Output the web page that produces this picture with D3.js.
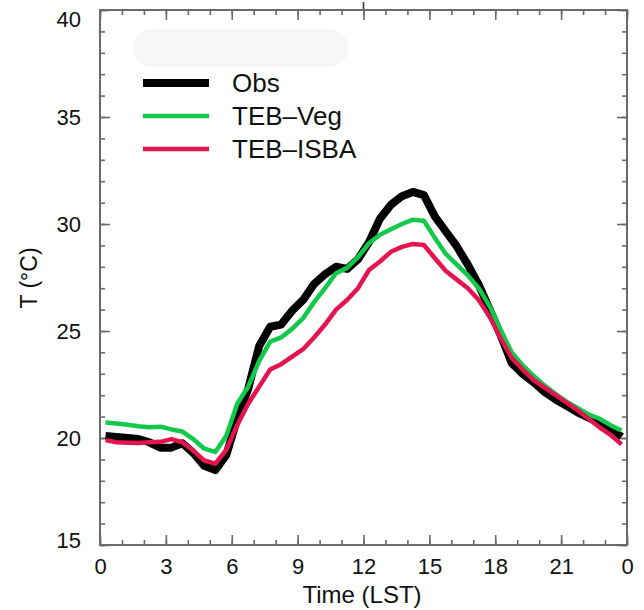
<!DOCTYPE html>
<html>
<head>
<meta charset="utf-8">
<script src="https://cdn.jsdelivr.net/npm/d3@7"></script>
<style>
  body { margin: 0; background: #fff; }
  text { font-family: "Liberation Sans", Arial, sans-serif; fill: #111; }
</style>
</head>
<body>
<svg id="chart" width="644" height="610"></svg>
<script>
var hours = [0.25, 0.75, 1.25, 1.75, 2.25, 2.75, 3.25, 3.75, 4.25, 4.75, 5.25, 5.75,
  6.25, 6.75, 7.25, 7.75, 8.25, 8.75, 9.25, 9.75, 10.25, 10.75, 11.25, 11.75,
  12.25, 12.75, 13.25, 13.75, 14.25, 14.75, 15.25, 15.75, 16.25, 16.75, 17.25, 17.75,
  18.25, 18.75, 19.25, 19.75, 20.25, 20.75, 21.25, 21.75, 22.25, 22.75, 23.25, 23.75];

var obs = [20.1, 20.05, 20.0, 19.95, 19.8, 19.55, 19.55, 19.75, 19.3, 18.7, 18.5, 19.2,
  20.9, 22.3, 24.3, 25.2, 25.3, 25.95, 26.45, 27.2, 27.65, 28.0, 27.9, 28.35,
  29.15, 30.25, 30.9, 31.3, 31.5, 31.35, 30.35, 29.65, 28.95, 28.1, 27.15, 26.0,
  24.8, 23.5, 23.0, 22.6, 22.15, 21.8, 21.5, 21.2, 20.95, 20.75, 20.45, 20.05];

var tebVeg = [20.72, 20.68, 20.62, 20.55, 20.5, 20.53, 20.4, 20.3, 19.95, 19.5, 19.35, 20.1,
  21.6, 22.4, 23.6, 24.5, 24.7, 25.1, 25.6, 26.35, 27.0, 27.7, 27.95, 28.45,
  29.1, 29.5, 29.75, 30.0, 30.2, 30.15, 29.35, 28.6, 28.1, 27.6, 27.0, 26.15,
  25.05, 24.0, 23.4, 22.9, 22.45, 22.05, 21.7, 21.4, 21.1, 20.9, 20.6, 20.35];

var tebIsba = [19.9, 19.8, 19.78, 19.77, 19.8, 19.82, 19.95, 19.8, 19.4, 18.95, 18.8, 19.45,
  20.6, 21.6, 22.4, 23.2, 23.45, 23.8, 24.15, 24.7, 25.3, 26.0, 26.45, 27.0,
  27.85, 28.25, 28.7, 28.93, 29.07, 29.02, 28.4, 27.8, 27.4, 27.0, 26.45, 25.65,
  24.65, 23.75, 23.2, 22.7, 22.35, 22.0, 21.65, 21.3, 20.9, 20.5, 20.15, 19.7];

var xTicks = [0, 3, 6, 9, 12, 15, 18, 21, 24];
var xTickLabels = ["0", "3", "6", "9", "12", "15", "18", "21", "0"];
var yTicks = [15, 20, 25, 30, 35, 40];

var seriesNames = ["Obs", "TEB\u2013Veg", "TEB\u2013ISBA"];
var seriesColors = ["#000000", "#12c94a", "#e5144f"];
var seriesWidths = [8, 4.5, 4.5];

var margin = {top: 10, right: 17, bottom: 65, left: 100};
var svg = d3.select("#chart");
var width = +svg.attr("width") - margin.left - margin.right;
var height = +svg.attr("height") - margin.top - margin.bottom;
var g = svg.append("g").attr("transform", `translate(${margin.left}, ${margin.top})`);

var x = d3.scaleLinear().domain([0, 24]).range([0, width]);
var y = d3.scaleLinear().domain([15, 40]).range([height, 0]);

var axisColor = "#6a6a6a";

// minor + major ticks, inward on all four sides
var xMinor = d3.range(0, 25);
var yMinor = d3.range(15, 41);

g.append("g")
  .attr("transform", `translate(0, ${height})`)
  .call(d3.axisBottom(x).tickValues(xMinor).tickSize(-5).tickFormat(""))
  .call(a => a.select(".domain").remove());
g.append("g")
  .attr("transform", `translate(0, ${height})`)
  .call(d3.axisBottom(x).tickValues(xTicks).tickSize(-10).tickPadding(13)
    .tickFormat((d, i) => xTickLabels[i]))
  .call(a => a.select(".domain").remove());
g.append("g")
  .call(d3.axisTop(x).tickValues(xMinor).tickSize(-5).tickFormat(""))
  .call(a => a.select(".domain").remove());
g.append("g")
  .call(d3.axisTop(x).tickValues(xTicks).tickSize(-10).tickFormat(""))
  .call(a => a.select(".domain").remove());

g.append("g")
  .call(d3.axisLeft(y).tickValues(yMinor).tickSize(-5).tickFormat(""))
  .call(a => a.select(".domain").remove());
g.append("g")
  .attr("class", "ylabels")
  .call(d3.axisLeft(y).tickValues(yTicks).tickSize(-10).tickPadding(19).tickFormat(d3.format("d")))
  .call(a => a.select(".domain").remove());
g.append("g")
  .attr("transform", `translate(${width}, 0)`)
  .call(d3.axisRight(y).tickValues(yMinor).tickSize(-5).tickFormat(""))
  .call(a => a.select(".domain").remove());
g.append("g")
  .attr("transform", `translate(${width}, 0)`)
  .call(d3.axisRight(y).tickValues(yTicks).tickSize(-10).tickFormat(""))
  .call(a => a.select(".domain").remove());

g.selectAll(".tick line").attr("stroke", axisColor).attr("stroke-width", 1.6);
g.selectAll(".tick text").attr("font-size", 22).attr("fill", "#111")
  .style("font-family", "'Liberation Sans', Arial, sans-serif");
// end labels sit just inside the frame, as in the original
g.selectAll(".ylabels .tick text")
  .attr("y", d => d == 40 ? 9 : (d == 15 ? -5 : 0));

// stray mark above the top frame at noon
g.append("line")
  .attr("x1", x(12)).attr("x2", x(12))
  .attr("y1", -8).attr("y2", 0)
  .attr("stroke", "#333").attr("stroke-width", 1.6);

// frame
g.append("rect")
  .attr("width", width).attr("height", height)
  .attr("fill", "none").attr("stroke", axisColor).attr("stroke-width", 2);

// legend
var legend = g.append("g");
legend.append("rect")
  .attr("x", 33).attr("y", 19).attr("width", 215).attr("height", 38)
  .attr("rx", 18).attr("fill", "#f7f7f7");
seriesNames.forEach(function(name, i){
  var ly = 73 + i * 33;
  legend.append("line")
    .attr("x1", 43).attr("x2", 109).attr("y1", ly).attr("y2", ly)
    .attr("stroke", seriesColors[i]).attr("stroke-width", i == 0 ? 8 : 4.5);
  legend.append("text")
    .attr("x", 132).attr("y", ly + 9)
    .attr("font-size", 26)
    .text(name);
});

// lines
var allSeries = [obs, tebVeg, tebIsba];
allSeries.forEach(function(vals, i){
  var line = d3.line()
    .x((d, j) => x(hours[j]))
    .y(d => y(d));
  g.append("path")
    .datum(vals)
    .attr("fill", "none")
    .attr("stroke", seriesColors[i])
    .attr("stroke-width", seriesWidths[i])
    .attr("stroke-linejoin", "round")
    .attr("d", line);
});

// axis titles
svg.append("text")
  .attr("x", 362).attr("y", 603)
  .attr("text-anchor", "middle")
  .attr("font-size", 24)
  .text("Time (LST)");
svg.append("text")
  .attr("transform", "translate(37, 278) rotate(-90)")
  .attr("text-anchor", "middle")
  .attr("font-size", 23)
  .text("T (\u00b0C)");
</script>
</body>
</html>
